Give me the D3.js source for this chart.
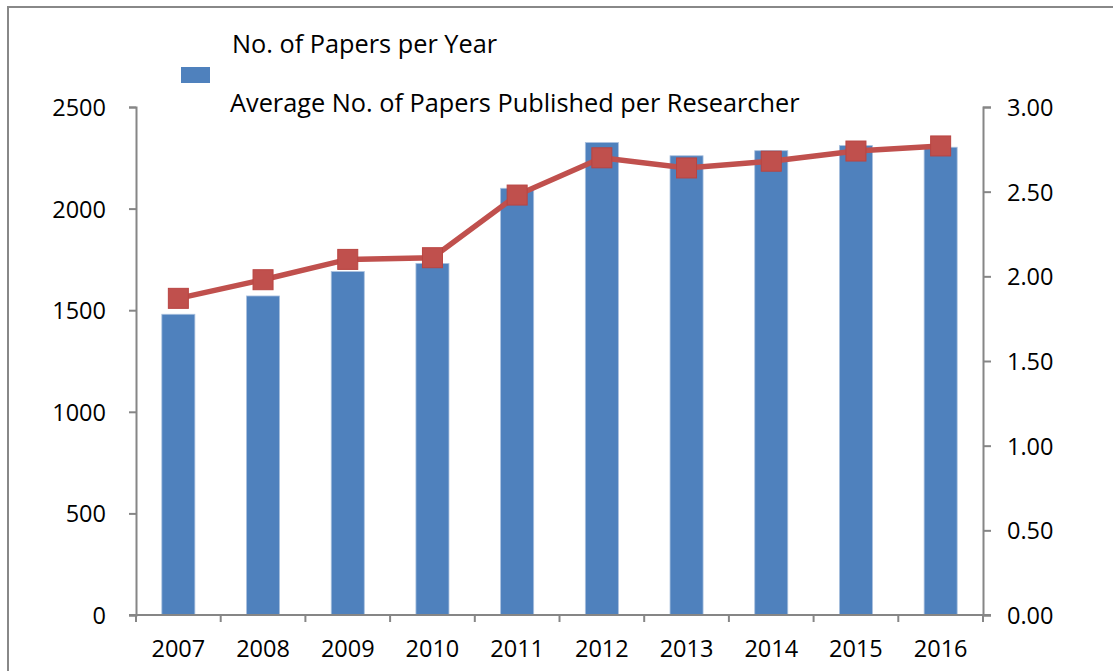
<!DOCTYPE html>
<html>
<head>
<meta charset="utf-8">
<style>
  body { margin: 0; background: #fff; }
  svg text { font-family: "Open Sans", sans-serif; fill: #000; }
  .axis path, .axis line { stroke: #868686; stroke-width: 2; }
</style>
</head>
<body>
<svg id="chart" width="1113" height="671"></svg>
<script src="https://d3js.org/d3.v7.min.js"></script>
<script>
// data
var years = ["2007","2008","2009","2010","2011","2012","2013","2014","2015","2016"];
var papers = [1480, 1570, 1690, 1730, 2100, 2325, 2260, 2285, 2310, 2302];
var avgPapers = [1.87, 1.98, 2.10, 2.11, 2.48, 2.70, 2.64, 2.68, 2.74, 2.77];
var leftTicks = [0, 500, 1000, 1500, 2000, 2500];
var rightTicks = [0, 0.5, 1, 1.5, 2, 2.5, 3];
var seriesNames = ["No. of Papers per Year", "Average No. of Papers Published per Researcher"];

var plotLeft = 136, plotRight = 983, plotTop = 107, plotBottom = 615;

var svg = d3.select("#chart");

// outer frame
svg.append("rect")
  .attr("x", 8).attr("y", 7)
  .attr("width", 1120).attr("height", 700)
  .attr("fill", "none")
  .attr("stroke", "#888")
  .attr("stroke-width", 2);

var x = d3.scaleBand().domain(years).range([plotLeft, plotRight]).paddingInner(0.61).paddingOuter(0.305);
var xTicks = d3.scaleBand().domain(years).range([plotLeft, plotRight]);
var y = d3.scaleLinear().domain([0, 2500]).range([plotBottom, plotTop]);
var y2 = d3.scaleLinear().domain([0, 3]).range([plotBottom, plotTop]);

// bars
svg.append("g").selectAll("rect")
  .data(papers)
  .enter().append("rect")
  .attr("x", function(d, i) { return x(years[i]); })
  .attr("y", function(d) { return y(d); })
  .attr("width", x.bandwidth())
  .attr("height", function(d) { return plotBottom - y(d); })
  .attr("fill", "#4f81bd")
  .attr("stroke", "#a9c0de")
  .attr("stroke-width", 0.8);

// left axis
var ya = svg.append("g").attr("class", "axis")
  .attr("transform", "translate(" + plotLeft + ",0)")
  .call(d3.axisLeft(y).tickValues(leftTicks).tickSize(7).tickSizeOuter(7).tickPadding(23).tickFormat(d3.format("d")));
ya.selectAll("text").style("font-size", "23.5px").attr("dy", "0.36em");

// right axis
var yb = svg.append("g").attr("class", "axis")
  .attr("transform", "translate(" + plotRight + ",0)")
  .call(d3.axisRight(y2).tickValues(rightTicks).tickSize(8).tickSizeOuter(8).tickPadding(16).tickFormat(d3.format(".2f")));
yb.selectAll("text").style("font-size", "23.5px").attr("dy", "0.36em");

// bottom axis, ticks at band edges
var xa = svg.append("g").attr("class", "axis")
  .attr("transform", "translate(0," + plotBottom + ")");
xa.append("line")
  .attr("x1", plotLeft - 7).attr("x2", plotRight + 8)
  .attr("stroke", "#868686").attr("stroke-width", 2);
xa.selectAll(".tk")
  .data(years.concat(["end"]))
  .enter().append("line")
  .attr("x1", function(d, i) { return i < years.length ? xTicks(d) : plotRight; })
  .attr("x2", function(d, i) { return i < years.length ? xTicks(d) : plotRight; })
  .attr("y1", 0).attr("y2", 7)
  .attr("stroke", "#868686").attr("stroke-width", 2);
xa.selectAll(".lbl")
  .data(years)
  .enter().append("text")
  .attr("x", function(d) { return xTicks(d) + xTicks.bandwidth() / 2; })
  .attr("y", 42)
  .attr("text-anchor", "middle")
  .style("font-size", "23.5px")
  .text(function(d) { return d; });

// line series
var line = d3.line()
  .x(function(d, i) { return x(years[i]) + x.bandwidth() / 2; })
  .y(function(d) { return y2(d); });

svg.append("path")
  .datum(avgPapers)
  .attr("d", line)
  .attr("fill", "none")
  .attr("stroke", "#c0504d")
  .attr("stroke-width", 5.5);

svg.append("g").selectAll("rect")
  .data(avgPapers)
  .enter().append("rect")
  .attr("x", function(d, i) { return x(years[i]) + x.bandwidth() / 2 - 10; })
  .attr("y", function(d) { return y2(d) - 10; })
  .attr("width", 20).attr("height", 20)
  .attr("fill", "#c0504d")
  .attr("stroke", "#b94441")
  .attr("stroke-width", 1);

// legend
svg.append("rect")
  .attr("x", 181).attr("y", 67)
  .attr("width", 29).attr("height", 16)
  .attr("fill", "#4f81bd");
svg.append("text")
  .attr("x", 232).attr("y", 53)
  .style("font-size", "25.3px")
  .text(seriesNames[0]);
svg.append("text")
  .attr("x", 230).attr("y", 112)
  .style("font-size", "25.3px")
  .text(seriesNames[1]);
</script>
</body>
</html>
